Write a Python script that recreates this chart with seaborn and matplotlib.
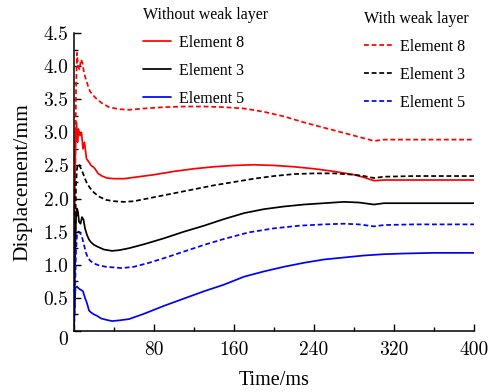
import numpy as np
import pandas as pd
import matplotlib
matplotlib.use("Agg")
import matplotlib.pyplot as plt
import matplotlib.transforms as mtransforms
from matplotlib.ticker import MultipleLocator
from matplotlib.lines import Line2D
import seaborn as sns

# ---------------- data ----------------
t_r_wo = [0, 0.5, 1.5, 2.5, 3.5, 4.5, 6, 7.5, 9, 10.5, 12.5, 15, 17, 19, 21, 24, 28, 33, 40, 50, 60,
          80, 100, 120, 140, 160, 180, 200, 220, 240, 260, 280, 290, 300, 310, 340, 370, 400]
v_r_wo = [0, 1.5, 2.9, 3.15, 2.85, 3.05, 2.95, 3.0, 2.75, 2.85, 2.6, 2.55, 2.5, 2.48, 2.45, 2.38, 2.34, 2.31, 2.3, 2.3, 2.32,
          2.36, 2.41, 2.45, 2.48, 2.5, 2.51, 2.5, 2.48, 2.45, 2.41, 2.36, 2.32, 2.27, 2.28, 2.28, 2.28, 2.28]

t_r_w = [0, 1, 2, 3, 4, 5.5, 7, 8.5, 10, 12, 14, 16, 19, 23, 28, 35, 45, 55, 70, 90, 110, 130,
         150, 170, 190, 210, 230, 250, 270, 290, 300, 310, 340, 370, 400]
v_r_w = [0, 2.0, 3.6, 4.2, 4.0, 3.95, 4.1, 4.05, 3.9, 3.8, 3.7, 3.62, 3.56, 3.5, 3.44, 3.38, 3.35, 3.34, 3.36, 3.38, 3.39, 3.39,
         3.38, 3.36, 3.31, 3.24, 3.15, 3.07, 2.99, 2.91, 2.87, 2.89, 2.89, 2.89, 2.89]

t_k_w = [0, 1, 2, 3, 4, 5.5, 7, 9, 11, 13, 16, 20, 25, 32, 40, 50, 60, 80, 100, 120, 140, 160,
         180, 200, 220, 240, 260, 280, 290, 300, 310, 340, 370, 400]
v_k_w = [0, 1.2, 2.2, 2.45, 2.52, 2.5, 2.45, 2.38, 2.3, 2.23, 2.16, 2.09, 2.03, 1.98, 1.96, 1.95, 1.96, 2.02, 2.08, 2.14, 2.2, 2.25,
         2.3, 2.34, 2.37, 2.38, 2.38, 2.36, 2.34, 2.31, 2.33, 2.34, 2.34, 2.34]

t_k_wo = [0, 1, 2, 3, 4, 5, 6.5, 8, 9.5, 11, 13, 15, 17, 20, 24, 30, 38, 45, 55, 70, 90, 110, 130,
          150, 170, 190, 210, 230, 250, 270, 285, 300, 310, 340, 370, 400]
v_k_wo = [0, 1.0, 1.7, 1.85, 1.8, 1.65, 1.62, 1.72, 1.68, 1.55, 1.45, 1.38, 1.34, 1.30, 1.27, 1.23, 1.21, 1.22, 1.25, 1.31, 1.40, 1.50, 1.59,
          1.69, 1.78, 1.84, 1.88, 1.91, 1.93, 1.95, 1.94, 1.91, 1.93, 1.93, 1.93, 1.93]

t_b_w = [0, 1, 2, 3, 4, 5, 6.5, 8, 10, 12, 14, 17, 20, 25, 32, 40, 48, 60, 75, 90, 110, 130,
         150, 175, 200, 225, 250, 270, 285, 300, 310, 340, 370, 400]
v_b_w = [0, 0.6, 1.2, 1.45, 1.5, 1.5, 1.47, 1.42, 1.3, 1.18, 1.1, 1.05, 1.02, 0.99, 0.97, 0.96, 0.95, 0.97, 1.03, 1.1, 1.2, 1.3,
         1.39, 1.49, 1.55, 1.59, 1.61, 1.62, 1.61, 1.58, 1.60, 1.61, 1.61, 1.61]

t_b_wo = [0, 0.5, 1.5, 3, 5, 7, 9, 11, 13, 15, 17, 20, 23, 27, 32, 38, 45, 55, 70, 90, 110, 130,
          150, 170, 190, 210, 230, 250, 270, 290, 310, 330, 360, 400]
v_b_wo = [0, 0.3, 0.66, 0.67, 0.64, 0.62, 0.6, 0.5, 0.42, 0.31, 0.28, 0.25, 0.23, 0.19, 0.17, 0.15, 0.16, 0.18, 0.26, 0.38, 0.49, 0.6,
          0.7, 0.82, 0.9, 0.97, 1.03, 1.08, 1.11, 1.14, 1.16, 1.17, 1.18, 1.18]

elements = ["Element 8", "Element 3", "Element 5"]
colors = ["#ff0000", "#000000", "#0000ff"]
x_ticks = [80, 160, 240, 320, 400]
y_ticks = [0, 0.5, 1.0, 1.5, 2.0, 2.5, 3.0, 3.5, 4.0, 4.5]

# ---------------- style ----------------
sns.set_style("ticks")
plt.rcParams["font.family"] = ["Liberation Serif", "DejaVu Serif"]
plt.rcParams["axes.unicode_minus"] = False
plt.rcParams["mathtext.fontset"] = "cm"

fig = plt.figure(figsize=(4.9, 3.92), dpi=100)
ax = fig.add_axes([74 / 490, 1 - 331 / 392, 400 / 490, 298 / 392])

dash = (0, (2.8, 1.6))
lw = 1.25
series_wo = [(t_r_wo, v_r_wo), (t_k_wo, v_k_wo), (t_b_wo, v_b_wo)]
series_w = [(t_r_w, v_r_w), (t_k_w, v_k_w), (t_b_w, v_b_w)]

for (t, v), c in zip(series_wo, colors):
    sns.lineplot(x=t, y=v, ax=ax, color=c, linewidth=lw, sort=False, estimator=None)
for (t, v), c in zip(series_w, colors):
    sns.lineplot(x=t, y=v, ax=ax, color=c, linewidth=lw, linestyle=dash, sort=False, estimator=None)

ax.set_xlim(0, 400)
ax.set_ylim(0, 4.5)
sns.despine(ax=ax)
for s in ["left", "bottom"]:
    ax.spines[s].set_linewidth(1.1)
    ax.spines[s].set_color("black")

ax.set_xticks([0] + x_ticks)
ax.set_xticklabels([""] + [str(v) for v in x_ticks])
ax.set_yticks(y_ticks)
ax.set_yticklabels(["0" if v == 0 else f"{v:.1f}" for v in y_ticks])
ax.xaxis.set_minor_locator(MultipleLocator(40))
ax.yaxis.set_minor_locator(MultipleLocator(0.25))
ax.tick_params(which="major", direction="in", length=5, width=1.0, color="black")
ax.tick_params(which="minor", direction="in", length=3, width=1.0, color="black")
ax.tick_params(axis="x", which="major", pad=7)
ax.tick_params(axis="y", which="major", pad=4)
for lab in ax.get_xticklabels() + ax.get_yticklabels():
    lab.set_fontfamily("cmr10")
    lab.set_fontsize(14)
    lab.set_color("black")
# origin label sits slightly lower in the reference
zero_lab = ax.get_yticklabels()[0]
zero_lab.set_transform(zero_lab.get_transform() +
                       mtransforms.ScaledTranslation(0, -7 / 100, fig.dpi_scale_trans))

ax.set_xlabel("Time/ms", fontsize=14.5, labelpad=9, color="black")
ax.set_ylabel("Displacement/mm", fontsize=15.5, labelpad=8, color="black")

# ---------------- legends ----------------
h_wo = [Line2D([], [], color=c, lw=lw) for c in colors]
h_w = [Line2D([], [], color=c, lw=lw, linestyle=dash) for c in colors]
common = dict(frameon=False, fontsize=11.5, title_fontsize=11.5, loc="upper left",
              borderpad=0, borderaxespad=0, handlelength=1.75, handletextpad=0.5,
              labelspacing=0.75, alignment="left")
leg1 = fig.legend(h_wo, elements, title="Without weak layer",
                  bbox_to_anchor=(143 / 490, 1 - 7 / 392), **common)
leg2 = fig.legend(h_w, elements, title="With weak layer",
                  bbox_to_anchor=(364 / 490, 1 - 11 / 392), **common)
for lg in (leg1, leg2):
    lg.get_title().set_color("black")
    for tx in lg.get_texts():
        tx.set_color("black")

fig.savefig("out.png", dpi=100)
